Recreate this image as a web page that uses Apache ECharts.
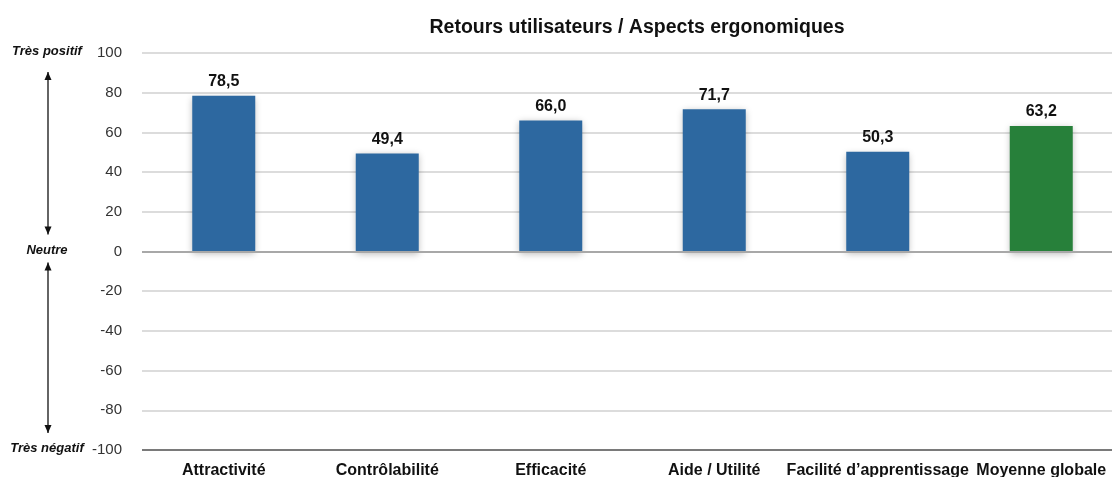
<!DOCTYPE html>
<html><head><meta charset="utf-8">
<script src="https://cdn.jsdelivr.net/npm/echarts@6/dist/echarts.min.js"></script>
<style>html,body{margin:0;padding:0;background:#fff}#c{width:1112px;height:477px}</style>
</head><body><div id="c"></div>
<script>
const categories = ['Attractivité','Contrôlabilité','Efficacité','Aide / Utilité','Facilité d\u2019apprentissage','Moyenne globale'];
const values = [78.5, 49.4, 66.0, 71.7, 50.3, 63.2];
const barColors = ['#2d68a0','#2d68a0','#2d68a0','#2d68a0','#2d68a0','#27803a'];
const yTicks = [-100,-80,-60,-40,-20,0,20,40,60,80,100];
const sideLabels = {'100':'Très positif','0':'Neutre','-100':'Très négatif'};

const FONT = '"Liberation Sans", Arial, Helvetica, sans-serif';
const chart = echarts.init(document.getElementById('c'));
const option = {
  animation: false,
  title: {
    text: 'Retours utilisateurs / Aspects ergonomiques',
    left: 632, top: 13, textAlign: 'center',
    textStyle: {fontFamily: FONT, fontWeight: 'bold', fontSize: 19.5, color: '#111'}
  },
  grid: {left: 142, width: 981, top: 53, height: 397, containLabel: false, outerBoundsMode: 'none'},
  xAxis: {
    type: 'category', data: categories,
    axisLine: {show: false},
    axisTick: {show: false},
    axisLabel: {interval: 0, fontFamily: FONT, fontWeight: 'bold', fontSize: 16, color: '#111', margin: 13}
  },
  yAxis: {
    type: 'value', min: yTicks[0], max: yTicks[yTicks.length-1], interval: 20,
    axisLine: {show: false}, axisTick: {show: false},
    splitLine: {lineStyle: {color: '#d0d0d0', width: 1.5}},
    axisLabel: {
      margin: 20,
      formatter: function (v) {
        const s = sideLabels[String(v)];
        const num = String(v);
        return s ? '{side|' + s + '}{num|' + num + '}' : '{num|' + num + '}';
      },
      rich: {
        side: {fontFamily: FONT, fontWeight: 'bold', fontStyle: 'italic', fontSize: 13, color: '#111', width: 70, align: 'center', padding: [0,0,3,0]},
        num: {fontFamily: FONT, fontSize: 15, color: '#333', width: 40, align: 'right'}
      }
    }
  },
  series: [{
    type: 'bar', barWidth: 63,
    data: values.map((v, i) => ({value: v, itemStyle: {color: barColors[i]}})),
    itemStyle: {shadowBlur: 7, shadowColor: 'rgba(0,0,0,0.28)', shadowOffsetY: 2},
    label: {
      show: true, position: 'top', distance: 6,
      fontFamily: FONT, fontWeight: 'bold', fontSize: 16, color: '#111',
      formatter: p => p.value.toFixed(1).replace('.', ',')
    },
    markLine: {
      silent: true, symbol: 'none', label: {show: false},
      data: [
        {yAxis: 0, lineStyle: {color: '#a8a8a8', width: 2, type: 'solid'}},
        {yAxis: -100, lineStyle: {color: '#7a7a7a', width: 2, type: 'solid'}}
      ]
    }
  }]
};
chart.setOption(option);

// double-headed arrows beside the axis, positioned from the y scale
function py(v){ return chart.convertToPixel({yAxisIndex: 0}, v); }
const ax = 48;
function arrow(y1, y2){
  return [
    {type: 'line', shape: {x1: ax, y1: y1, x2: ax, y2: y2}, style: {stroke: '#111', lineWidth: 1.3}},
    {type: 'polygon', shape: {points: [[ax-3.5, y1+8],[ax, y1],[ax+3.5, y1+8]]}, style: {fill: '#111'}},
    {type: 'polygon', shape: {points: [[ax-3.5, y2-8],[ax, y2],[ax+3.5, y2-8]]}, style: {fill: '#111'}}
  ];
}
const g = [].concat(
  arrow(py(100) + 19, py(0) - 17),
  arrow(py(0) + 11, py(-100) - 17)
);
chart.setOption({graphic: {elements: g}});
</script></body></html>
